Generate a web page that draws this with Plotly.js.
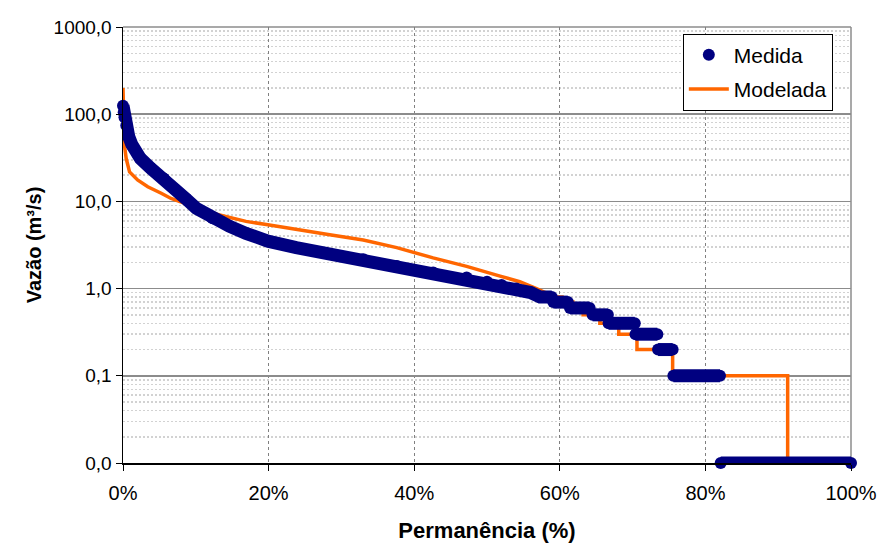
<!DOCTYPE html>
<html>
<head>
<meta charset="utf-8">
<script src="https://cdn.plot.ly/plotly-3.0.1.min.js"></script>
<style>
  html, body { margin: 0; padding: 0; background: #ffffff; }
  #chart { width: 879px; height: 543px; }
</style>
</head>
<body>
<div id="chart"></div>
<script>
// Permanência (%) and Vazão (m³/s)
const medidaX = [0, 0.1, 0.2, 0.45, 0.8, 1.2, 2.4, 3.8, 5.6, 7.0, 8.6, 10.1, 12.3, 14.6, 16.9, 19.9, 23.8, 28.4, 33.0, 37.6, 42.6, 47.2, 50.0, 52.0, 54.0, 56.0, 57.3, 58.9,
                 null, 59.1, 61.1, null, 61.4, 64.1, null, 64.5, 66.6, null, 66.7, 70.3, null, 70.4, 73.4, null, 73.5, 75.5, null, 75.6, 82.0, null, 82.1, 100];
const medidaY = [125, 105, 92, 74, 55, 45, 31, 24, 18.3, 14.1, 10.8, 8.3, 6.4, 5.2, 4.3, 3.5, 2.95, 2.5, 2.17, 1.82, 1.53, 1.34, 1.2, 1.1, 1.0, 0.9, 0.8, 0.8,
                 null, 0.7, 0.7, null, 0.6, 0.6, null, 0.5, 0.5, null, 0.4, 0.4, null, 0.3, 0.3, null, 0.2, 0.2, null, 0.1, 0.1, null, 0.01, 0.01];

const modeladaX = [0, 0.05, 0.1, 0.2, 0.44, 0.9, 2.0, 3.4, 5.25, 6.6, 8.2, 10.1, 12.3, 16.9, 19.9, 23.8, 28.4, 33.0, 37.6, 42.6, 47.2, 51.8, 54.5, 56.8, 58.0, 59.0,
                   60.3, 60.3, 61.8, 61.8, 63.2, 63.2, 65.5, 65.5, 68.1, 68.1, 70.6, 70.6, 75.5, 75.5, 91.3, 91.3, 100];
const modeladaY = [200, 120, 70, 44, 31, 21.8, 17.6, 14.7, 12.4, 10.8, 9.7, 8.7, 7.3, 5.9, 5.4, 4.75, 4.15, 3.6, 2.95, 2.25, 1.8, 1.39, 1.2, 1.0, 0.9, 0.8,
                   0.8, 0.7, 0.7, 0.6, 0.6, 0.5, 0.5, 0.4, 0.4, 0.3, 0.3, 0.2, 0.2, 0.1, 0.1, 0.01, 0.01];

const xTickVals = [0, 20, 40, 60, 80, 100];
const xTickText = ['0%', '20%', '40%', '60%', '80%', '100%'];
const yTickVals = [0.01, 0.1, 1, 10, 100, 1000];
const yTickText = ['0,0', '0,1', '1,0', '10,0', '100,0', '1000,0'];

const NAVY = '#000080';
const ORANGE = '#FF6600';
const FONT = 'Liberation Sans, Arial, sans-serif';

const traces = [
  {
    x: modeladaX, y: modeladaY, type: 'scatter', mode: 'lines', name: 'Modelada',
    line: { color: ORANGE, width: 3.5 }, cliponaxis: false, legendrank: 2, legendgroup: 'b'
  },
  {
    x: medidaX, y: medidaY, type: 'scatter', mode: 'lines', name: 'Medida',
    line: { color: NAVY, width: 13 }, connectgaps: false, showlegend: false, cliponaxis: false, legendgroup: 'a'
  },
  {
    x: medidaX, y: medidaY, type: 'scatter', mode: 'markers', name: 'Medida',
    marker: { color: NAVY, size: 12 }, cliponaxis: false, legendrank: 1, legendgroup: 'a'
  }
];

const layout = {
  width: 879, height: 543,
  margin: { l: 123, r: 28, t: 27, b: 80 },
  paper_bgcolor: '#ffffff', plot_bgcolor: '#ffffff',
  font: { family: FONT, color: '#000000', size: 19 },
  showlegend: true,
  legend: {
    x: 0.769, y: 0.985, xanchor: 'left', yanchor: 'top',
    bgcolor: '#ffffff', bordercolor: '#000000', borderwidth: 1,
    font: { family: FONT, size: 21, color: '#000000' },
    traceorder: 'grouped', tracegroupgap: 4, itemwidth: 40
  },
  xaxis: {
    range: [0, 100], tickvals: xTickVals, ticktext: xTickText,
    showline: true, linecolor: '#000000', linewidth: 1.5,
    ticks: 'outside', ticklen: 6, tickcolor: '#000000', tickwidth: 1,
    ticklabelstandoff: 5,
    showgrid: true, gridcolor: '#808080', gridwidth: 1, griddash: '3px,3px',
    zeroline: false, tickfont: { family: FONT, size: 20 },
    title: { text: 'Permanência (%)', font: { family: FONT, size: 22, weight: 'bold' }, standoff: 20 }
  },
  yaxis: {
    type: 'log', range: [-2, 3], tickvals: yTickVals, ticktext: yTickText,
    showline: true, linecolor: '#000000', linewidth: 1.5,
    ticks: 'outside', ticklen: 6, tickcolor: '#000000', tickwidth: 1,
    showgrid: true, gridcolor: '#8c8c8c', gridwidth: 1.5,
    minor: { dtick: 'D1', showgrid: true, gridcolor: '#d2d2d2', gridwidth: 1.5, griddash: '2px,2px', ticks: '' },
    zeroline: false, tickfont: { family: FONT, size: 19 },
    title: { text: 'Vazão (m³/s)', font: { family: FONT, size: 20, weight: 'bold' }, standoff: 6 }
  },
  shapes: [
    { type: 'line', xref: 'paper', yref: 'paper', x0: 0, x1: 1, y0: 1, y1: 1, line: { color: '#8c8c8c', width: 1.5 }, layer: 'below' },
    { type: 'line', xref: 'paper', yref: 'paper', x0: 1, x1: 1, y0: 0, y1: 1, line: { color: '#8c8c8c', width: 1.5 }, layer: 'below' }
  ]
};

Plotly.newPlot('chart', traces, layout, { displayModeBar: false, staticPlot: true });
</script>
</body>
</html>
